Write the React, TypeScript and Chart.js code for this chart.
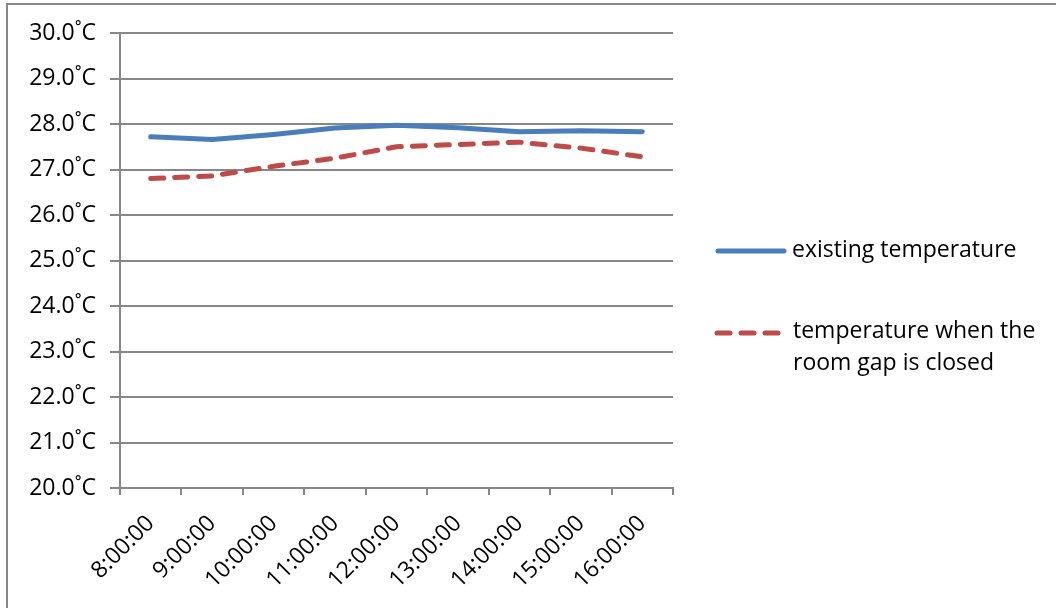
import React, { useEffect, useRef } from "react";
import { Chart, registerables } from "chart.js";

Chart.register(...registerables);

const categories = ["8:00:00", "9:00:00", "10:00:00", "11:00:00", "12:00:00", "13:00:00", "14:00:00", "15:00:00", "16:00:00"];
const existingTemp = [27.72, 27.66, 27.77, 27.91, 27.97, 27.92, 27.83, 27.85, 27.83];
const closedGapTemp = [26.80, 26.86, 27.07, 27.25, 27.50, 27.55, 27.60, 27.47, 27.28];
const seriesNames = ["existing temperature", ["temperature when the", "room gap is closed"]];
const yMin = 20;
const yMax = 30;

const FONT = "'Open Sans', 'Noto Sans', sans-serif";
const FS = 23;
const BLUE = "#4a7ebb";
const RED = "#be4b48";
const GRID = "#878787";

export default function App() {
  const ref = useRef<HTMLCanvasElement | null>(null);
  useEffect(() => {
    const canvas = ref.current!;
    const framePlugin = {
      id: "frame",
      beforeDraw(chart: any) {
        const ctx = chart.ctx;
        ctx.save();
        ctx.fillStyle = "#ffffff";
        ctx.fillRect(0, 0, chart.width, chart.height);
        ctx.strokeStyle = GRID;
        ctx.lineWidth = 2;
        ctx.strokeRect(7, 4, chart.width + 20, chart.height + 20);
        ctx.restore();
      },
      afterDraw(chart: any) {
        const ctx = chart.ctx;
        ctx.save();
        ctx.lineWidth = 5;
        ctx.lineCap = "round";
        ctx.strokeStyle = BLUE;
        ctx.beginPath();
        ctx.moveTo(718, 251);
        ctx.lineTo(784, 251);
        ctx.stroke();
        ctx.strokeStyle = RED;
        ctx.setLineDash([13, 11]);
        ctx.beginPath();
        ctx.moveTo(717, 333);
        ctx.lineTo(786, 333);
        ctx.stroke();
        ctx.setLineDash([]);
        ctx.fillStyle = "#000000";
        ctx.font = `${FS}px ${FONT}`;
        ctx.textBaseline = "middle";
        ctx.textAlign = "left";
        ctx.fillText(seriesNames[0] as string, 792, 250);
        const lines = seriesNames[1] as string[];
        ctx.fillText(lines[0], 793, 331);
        ctx.fillText(lines[1], 793, 363);
        ctx.restore();
      },
    };
    const chart = new Chart(canvas, {
      type: "line",
      data: {
        labels: categories,
        datasets: [
          {
            label: seriesNames[0] as string,
            data: existingTemp,
            borderColor: BLUE,
            backgroundColor: BLUE,
            borderWidth: 5,
            pointRadius: 0,
            tension: 0,
            borderCapStyle: "round",
            borderJoinStyle: "round",
          },
          {
            label: (seriesNames[1] as string[]).join(" "),
            data: closedGapTemp,
            borderColor: RED,
            backgroundColor: RED,
            borderWidth: 5,
            borderDash: [13, 11],
            pointRadius: 0,
            tension: 0,
            borderCapStyle: "round",
            borderJoinStyle: "round",
          },
        ],
      },
      options: {
        responsive: false,
        animation: false,
        layout: { padding: { top: 33, right: 383, left: 0, bottom: 0 } },
        plugins: { legend: { display: false }, tooltip: { enabled: false } },
        scales: {
          x: {
            type: "category",
            offset: true,
            afterFit(axis: any) {
              axis.height = 120;
            },
            grid: {
              offset: true,
              drawOnChartArea: false,
              drawTicks: true,
              tickLength: 7,
              color: GRID,
              lineWidth: 2,
            },
            border: { color: GRID, width: 2 },
            ticks: {
              minRotation: 45,
              maxRotation: 45,
              autoSkip: false,
              padding: 15,
              color: "#000000",
              font: { family: FONT, size: FS },
            },
          },
          y: {
            min: yMin,
            max: yMax,
            afterFit(axis: any) {
              axis.width = 120;
            },
            grid: {
              color: GRID,
              lineWidth: 2,
              tickLength: 10,
            },
            border: { color: GRID, width: 2 },
            ticks: {
              stepSize: 1,
              padding: 14,
              color: "#000000",
              font: { family: FONT, size: FS },
              callback: (v: any) => Number(v).toFixed(1) + "˚C",
            },
          },
        },
      },
      plugins: [framePlugin],
    });
    return () => chart.destroy();
  }, []);
  return (
    <div style={{ position: "fixed", left: 0, top: 0, width: 1056, height: 608 }}>
      <canvas ref={ref} width={1056} height={608} />
    </div>
  );
}
